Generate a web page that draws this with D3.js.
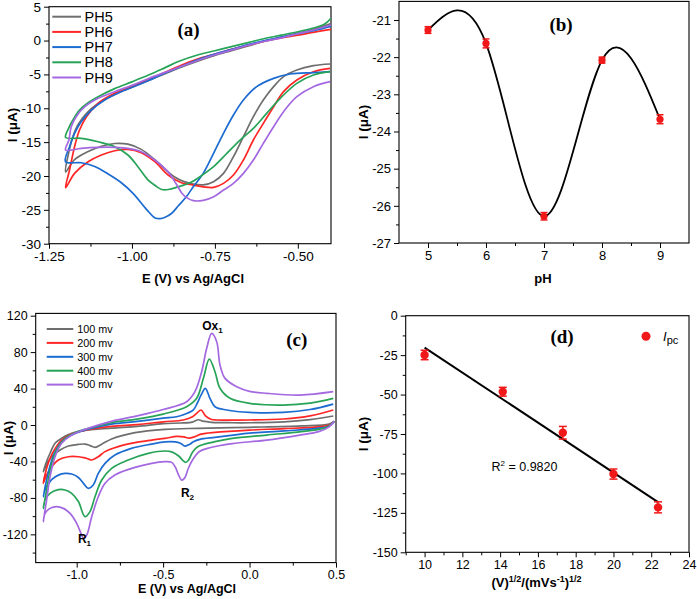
<!DOCTYPE html>
<html><head><meta charset="utf-8">
<script src="https://cdn.jsdelivr.net/npm/d3@7"></script>
<style>
body{margin:0;background:#fff;}
svg text{font-family:"Liberation Sans",Arial,sans-serif;}
</style></head><body>
<svg id="chart" width="697" height="599"></svg>
<script>
// ---------- Panel (a): CVs at different pH (E in V, I in µA) ----------
const phLabels = ["PH5","PH6","PH7","PH8","PH9"];
const cvPH5 = [[-0.403,-3.46],[-0.453,-3.71],[-0.503,-4.35],[-0.543,-5.33],[-0.573,-6.81],[-0.604,-8.78],[-0.634,-11.24],[-0.664,-14.2],[-0.694,-17.15],[-0.724,-19.61],[-0.754,-20.84],[-0.785,-21.3],[-0.815,-21.2],[-0.845,-20.8],[-0.87,-20.2],[-0.891,-19.4],[-0.931,-17.6],[-0.972,-16.07],[-1.012,-15.3],[-1.052,-15.2],[-1.092,-15.6],[-1.132,-16.4],[-1.173,-17.6],[-1.2,-19.4],
  [-1.191,-16.66],[-1.178,-14.2],[-1.163,-12.47],[-1.137,-10.75],[-1.102,-9.27],[-1.05,-7.9],[-1.0,-6.9],[-0.95,-5.9],[-0.9,-4.9],[-0.85,-3.9],[-0.8,-3.0],[-0.75,-2.2],[-0.7,-1.5],[-0.65,-0.8],[-0.6,-0.1],[-0.55,0.5],[-0.5,1.1],[-0.45,1.7],[-0.4,2.5]];
const cvPH6 = [[-0.403,-4.1],[-0.453,-4.6],[-0.503,-5.83],[-0.543,-7.55],[-0.573,-9.77],[-0.604,-12.23],[-0.634,-14.69],[-0.664,-17.64],[-0.694,-19.86],[-0.724,-21.09],[-0.754,-21.68],[-0.785,-21.6],[-0.815,-21.34],[-0.851,-21.0],[-0.891,-19.86],[-0.931,-17.89],[-0.972,-16.56],[-1.012,-16.07],[-1.052,-16.27],[-1.092,-16.9],[-1.132,-17.89],[-1.173,-19.61],[-1.2,-21.73],
  [-1.188,-19.12],[-1.173,-15.67],[-1.158,-13.21],[-1.137,-11.24],[-1.102,-9.27],[-1.052,-7.8],[-1.0,-6.8],[-0.95,-5.8],[-0.9,-4.7],[-0.85,-3.6],[-0.8,-2.7],[-0.75,-2.0],[-0.7,-1.3],[-0.65,-0.7],[-0.6,-0.1],[-0.55,0.4],[-0.5,0.8],[-0.45,1.25],[-0.4,1.66]];
const cvPH7 = [[-0.403,-4.6],[-0.453,-4.74],[-0.523,-4.94],[-0.573,-5.58],[-0.624,-6.81],[-0.664,-8.78],[-0.694,-11.0],[-0.724,-13.7],[-0.754,-16.66],[-0.785,-19.61],[-0.815,-21.58],[-0.835,-23.0],[-0.86,-24.4],[-0.88,-25.5],[-0.9,-26.1],[-0.915,-26.3],[-0.93,-26.2],[-0.955,-25.0],[-0.996,-22.6],[-1.032,-21.0],[-1.072,-19.7],[-1.112,-18.6],[-1.153,-18.04],[-1.2,-17.89],
  [-1.188,-15.67],[-1.173,-13.7],[-1.153,-11.98],[-1.122,-10.26],[-1.082,-8.78],[-1.032,-7.55],[-0.982,-6.57],[-0.95,-5.9],[-0.9,-4.8],[-0.85,-3.8],[-0.8,-2.8],[-0.75,-2.0],[-0.7,-1.3],[-0.65,-0.6],[-0.6,0.0],[-0.55,0.5],[-0.5,1.0],[-0.45,1.5],[-0.4,2.1]];
const cvPH8 = [[-0.403,-4.6],[-0.453,-5.09],[-0.503,-6.32],[-0.553,-8.53],[-0.594,-10.75],[-0.634,-12.97],[-0.674,-14.69],[-0.714,-16.66],[-0.754,-18.63],[-0.795,-20.11],[-0.825,-21.0],[-0.861,-21.6],[-0.89,-22.0],[-0.91,-22.0],[-0.93,-21.4],[-0.951,-20.6],[-0.982,-18.63],[-1.012,-16.9],[-1.052,-15.67],[-1.102,-14.94],[-1.153,-14.44],[-1.2,-14.3],
  [-1.191,-12.97],[-1.178,-11.74],[-1.158,-10.26],[-1.132,-9.18],[-1.092,-8.04],[-1.052,-7.1],[-1.0,-6.1],[-0.95,-5.1],[-0.9,-4.0],[-0.86,-3.1],[-0.8,-2.1],[-0.75,-1.5],[-0.7,-0.9],[-0.65,-0.3],[-0.6,0.3],[-0.55,0.8],[-0.5,1.3],[-0.45,1.9],[-0.42,2.4],[-0.4,3.3]];
const cvPH9 = [[-0.403,-6.07],[-0.453,-6.81],[-0.503,-8.29],[-0.543,-10.5],[-0.573,-12.72],[-0.604,-15.18],[-0.634,-17.64],[-0.664,-19.61],[-0.694,-21.09],[-0.724,-22.08],[-0.755,-23.1],[-0.785,-23.6],[-0.815,-23.65],[-0.835,-23.2],[-0.85,-22.5],[-0.865,-21.3],[-0.891,-19.4],[-0.931,-17.64],[-0.972,-16.41],[-1.012,-15.92],[-1.052,-15.77],[-1.102,-15.77],[-1.153,-15.92],[-1.2,-16.17],
  [-1.19,-14.69],[-1.183,-12.72],[-1.168,-11.24],[-1.142,-9.77],[-1.102,-8.53],[-1.052,-7.55],[-1.0,-6.6],[-0.95,-5.6],[-0.9,-4.7],[-0.85,-3.8],[-0.8,-2.9],[-0.75,-2.1],[-0.7,-1.4],[-0.65,-0.7],[-0.6,-0.1],[-0.55,0.4],[-0.5,1.0],[-0.45,1.6],[-0.4,2.3]];

// ---------- Panel (b): peak current vs pH ----------
const pHValues = [5, 6, 7, 8, 9];
const pHCurrent = [-21.27, -21.63, -26.28, -22.08, -23.67];
const pHError = [0.09, 0.12, 0.1, 0.08, 0.12];

// ---------- Panel (c): CVs at different scan rates ----------
const rateLabels = ["100 mv","200 mv","300 mv","400 mv","500 mv"];
const cv100 = [[0.49,4],[0.46,1],[0.3,-1],[0.0,-2.5],[-0.3,-3.6],[-0.489,-4.8],[-0.663,-8.4],[-0.798,-15.3],[-0.855,-21],[-0.894,-24.5],[-0.923,-22.6],[-0.952,-20.9],[-0.99,-21.3],[-1.048,-23],[-1.096,-27.4],[-1.145,-34.8],[-1.174,-43.9],[-1.193,-51.2],
  [-1.174,-40],[-1.154,-31],[-1.125,-20.1],[-1.087,-14.6],[-1.029,-9.2],[-0.961,-6.2],[-0.8,-3.5],[-0.65,-1.5],[-0.5,1.5],[-0.4,2.2],[-0.33,3.2],[-0.296,5.8],[-0.27,4.2],[-0.22,3],[-0.1,2.5],[0.0,2.5],[0.2,3.5],[0.35,6],[0.484,9.9]];
const cv200 = [[0.49,4],[0.46,0],[0.4,-2],[0.2,-4],[0.0,-5.5],[-0.2,-8],[-0.28,-10],[-0.32,-13],[-0.35,-14.3],[-0.38,-13],[-0.42,-12.5],[-0.489,-14.6],[-0.566,-16.5],[-0.663,-19.4],[-0.76,-23.7],[-0.836,-29.2],[-0.875,-34.8],[-0.913,-38.4],[-0.952,-36],[-0.99,-34.8],[-1.048,-34.8],[-1.106,-38.4],[-1.145,-45.7],[-1.174,-54.9],[-1.193,-64],
  [-1.174,-47.6],[-1.154,-36.6],[-1.125,-26],[-1.087,-16.5],[-1.029,-10],[-0.961,-6.2],[-0.8,-1.5],[-0.65,0.5],[-0.5,3.5],[-0.383,5.5],[-0.33,9],[-0.306,12.8],[-0.28,16.5],[-0.255,10],[-0.22,6],[-0.19,5.5],[0.0,5.5],[0.195,6.6],[0.35,10],[0.484,16.5]];
const cv300 = [[0.49,4],[0.46,-1],[0.4,-3.5],[0.2,-6.5],[0.0,-9],[-0.094,-11],[-0.2,-13.5],[-0.287,-15.7],[-0.325,-18.3],[-0.345,-21],[-0.373,-23.1],[-0.4,-20],[-0.43,-18.5],[-0.489,-18.5],[-0.566,-20.9],[-0.683,-25.6],[-0.779,-33],[-0.836,-42.1],[-0.875,-53.1],[-0.904,-65.9],[-0.933,-69.5],[-0.961,-64],[-0.99,-57.6],[-1.029,-53.8],[-1.067,-53.1],[-1.106,-55],[-1.145,-60],[-1.183,-71.3],[-1.193,-78.7],
  [-1.174,-60.4],[-1.154,-44.8],[-1.125,-29.5],[-1.077,-16.5],[-1.01,-9.2],[-0.952,-5.5],[-0.8,1],[-0.65,4],[-0.5,7.5],[-0.422,9.1],[-0.36,13],[-0.325,16.5],[-0.3,25],[-0.28,33],[-0.256,40.2],[-0.229,29.3],[-0.2,20.1],[-0.132,16.5],[0.0,13.9],[0.195,13.9],[0.35,17],[0.484,23]];
const cv400 = [[0.49,4],[0.46,-1],[0.42,-4],[0.3,-7.3],[0.1,-11],[-0.1,-14.6],[-0.2,-18.3],[-0.3,-23.8],[-0.33,-30],[-0.355,-39],[-0.37,-41],[-0.385,-39],[-0.41,-34],[-0.45,-29.5],[-0.489,-28.5],[-0.586,-31.1],[-0.702,-38.4],[-0.798,-47.6],[-0.855,-60.4],[-0.894,-78.7],[-0.923,-95],[-0.952,-100.6],[-0.99,-84],[-1.029,-75],[-1.067,-71.3],[-1.106,-71],[-1.154,-75],[-1.183,-82.3],[-1.193,-91.5],
  [-1.174,-71.3],[-1.154,-50],[-1.125,-31.1],[-1.077,-16.5],[-1.01,-8.4],[-0.952,-4.8],[-0.8,2.5],[-0.65,6.5],[-0.5,12],[-0.364,20.1],[-0.306,29.3],[-0.267,51.2],[-0.233,72.4],[-0.2,58.5],[-0.171,40.3],[-0.113,29.3],[0.0,23.8],[0.195,21.9],[0.35,24],[0.484,29.3]];
const cv500 = [[0.49,4],[0.46,-2],[0.4,-7.3],[0.29,-11],[0.1,-16.5],[-0.1,-20.5],[-0.23,-25],[-0.29,-29],[-0.33,-38.4],[-0.355,-48],[-0.375,-58],[-0.393,-60.4],[-0.41,-55],[-0.43,-46],[-0.45,-41],[-0.489,-40.2],[-0.663,-46.5],[-0.779,-54.9],[-0.836,-64],[-0.875,-78.7],[-0.913,-100.6],[-0.942,-120.8],[-0.961,-124.4],[-0.971,-120.8],[-1.0,-107.9],[-1.038,-97],[-1.077,-91.5],[-1.116,-89.6],[-1.154,-91.5],[-1.183,-97],[-1.193,-106.1],
  [-1.174,-82.3],[-1.154,-56.7],[-1.125,-34.8],[-1.087,-20.1],[-1.029,-11],[-0.952,-4.8],[-0.8,4],[-0.65,10],[-0.5,17],[-0.364,25.6],[-0.316,36.6],[-0.277,58.5],[-0.248,84.2],[-0.219,100.6],[-0.19,91.4],[-0.171,65.9],[-0.142,51.2],[-0.074,42],[0.0,37],[0.099,34.8],[0.292,32.9],[0.484,36.6]];

// ---------- Panel (d): Ipc vs sqrt(scan rate) ----------
const sqrtRate = [10, 14.14, 17.32, 20, 22.36];
const ipc = [-24.9, -48.2, -74.2, -100.4, -121.5];
const ipcError = [3, 2.8, 4, 3.2, 3.5];
const r2Label = "0.9820";

const colors = ["#6e6e6e", "#ff2626", "#1c6bd1", "#27a358", "#a468e0"];

// ---------- drawing ----------
const svg = d3.select("#chart");
const hy = f => d => f(d).replace("\u2212", "-");

function frame(g, xs, ys, xMaj, xMin, yMaj, yMin, xFmt, yFmt, fs) {
  const [x0, x1] = xs.range(), [y0, y1] = ys.range();
  const styleAxis = sel => {
    sel.attr("font-family", "Liberation Sans, Arial, sans-serif").attr("font-size", fs);
    sel.selectAll("text").attr("fill", "#000");
    sel.selectAll("line").attr("stroke", "#000");
    sel.select(".domain").remove();
  };
  g.append("g").attr("transform", `translate(0,${y0})`)
    .call(d3.axisBottom(xs).tickValues(xMaj).tickFormat(xFmt).tickSize(5).tickSizeOuter(0).tickPadding(3)).call(styleAxis);
  g.append("g").attr("transform", `translate(0,${y0})`)
    .call(d3.axisBottom(xs).tickValues(xMin).tickFormat("").tickSize(3).tickSizeOuter(0)).call(styleAxis);
  g.append("g").attr("transform", `translate(${x0},0)`)
    .call(d3.axisLeft(ys).tickValues(yMaj).tickFormat(yFmt).tickSize(5).tickSizeOuter(0).tickPadding(3)).call(styleAxis);
  g.append("g").attr("transform", `translate(${x0},0)`)
    .call(d3.axisLeft(ys).tickValues(yMin).tickFormat("").tickSize(3).tickSizeOuter(0)).call(styleAxis);
  g.append("rect").attr("x", x0).attr("y", y1).attr("width", x1 - x0).attr("height", y0 - y1)
    .attr("fill", "none").attr("stroke", "#000").attr("stroke-width", 1.1);
}
function clip(id, xs, ys) {
  const [x0, x1] = xs.range(), [y0, y1] = ys.range();
  svg.append("clipPath").attr("id", id).append("rect")
    .attr("x", x0).attr("y", y1).attr("width", x1 - x0).attr("height", y0 - y1);
}
function ytitle(x, y) {
  svg.append("text").attr("transform", `translate(${x},${y}) rotate(-90)`)
    .attr("text-anchor", "middle").attr("font-weight", "bold").attr("font-size", 13.5).text("I (\u03bcA)");
}
function xtitle(x, y, t, fs) {
  return svg.append("text").attr("x", x).attr("y", y).attr("text-anchor", "middle")
    .attr("font-weight", "bold").attr("font-size", fs).text(t);
}
function plabel(x, y, t) {
  svg.append("text").attr("x", x).attr("y", y).attr("text-anchor", "middle")
    .style("font-family", "'Liberation Serif','Times New Roman',serif")
    .attr("font-weight", "bold").attr("font-size", 19).text(t);
}

// ===== (a) =====
const xa = d3.scaleLinear().domain([-1.25, -0.4]).range([49, 331]);
const ya = d3.scaleLinear().domain([-30, 5]).range([243.7, 6.7]);
const gA = svg.append("g");
frame(gA, xa, ya, [-1.25, -1.0, -0.75, -0.5], [-1.125, -0.875, -0.625],
  d3.range(-30, 5.1, 5), d3.range(-27.5, 5, 5), hy(d3.format(".2f")), hy(d3.format("d")), 13.5);
clip("clipA", xa, ya);
const lineA = d3.line().x(d => xa(d[0])).y(d => ya(d[1])).curve(d3.curveCatmullRom.alpha(0.5));
[cvPH5, cvPH6, cvPH7, cvPH8, cvPH9].forEach((s, i) => {
  gA.append("path").attr("d", lineA(s)).attr("fill", "none").attr("stroke", colors[i])
    .attr("stroke-width", 1.7).attr("clip-path", "url(#clipA)");
});
phLabels.forEach((l, i) => {
  const y = 16.7 + i * 15.2;
  gA.append("line").attr("x1", 52.3).attr("x2", 81).attr("y1", y).attr("y2", y)
    .attr("stroke", colors[i]).attr("stroke-width", 2);
  gA.append("text").attr("x", 84.5).attr("y", y + 5).attr("font-size", 14.5).text(l);
});
plabel(188.5, 36, "(a)");
xtitle(193, 283, "E (V) vs Ag/AgCl", 13);
ytitle(17, 125);

// ===== (b) =====
const xb = d3.scaleLinear().domain([4.5, 9.5]).range([399, 689]);
const yb = d3.scaleLinear().domain([-27, -20.5]).range([243, 1.4]);
const gB = svg.append("g");
frame(gB, xb, yb, [5, 6, 7, 8, 9], [5.5, 6.5, 7.5, 8.5],
  d3.range(-27, -20.9, 1), d3.range(-26.5, -20.9, 1), hy(d3.format("d")), hy(d3.format("d")), 13);
const ptsB = pHValues.map((v, i) => [v, pHCurrent[i], pHError[i]]);
gB.append("path").attr("d", d3.line().x(d => xb(d[0])).y(d => yb(d[1])).curve(d3.curveNatural)(ptsB))
  .attr("fill", "none").attr("stroke", "#000").attr("stroke-width", 1.8);
ptsB.forEach(d => {
  const cx = xb(d[0]), t = yb(d[1] + d[2]), b = yb(d[1] - d[2]);
  gB.append("line").attr("x1", cx).attr("x2", cx).attr("y1", t).attr("y2", b).attr("stroke", "#f01818").attr("stroke-width", 1.5);
  [t, b].forEach(yy => gB.append("line").attr("x1", cx - 3.5).attr("x2", cx + 3.5).attr("y1", yy).attr("y2", yy).attr("stroke", "#f01818").attr("stroke-width", 1.5));
  gB.append("circle").attr("cx", cx).attr("cy", yb(d[1])).attr("r", 3.6).attr("fill", "#f01818");
});
plabel(561, 30.5, "(b)");
xtitle(543, 283, "pH", 13);
ytitle(368, 122);

// ===== (c) =====
const xc = d3.scaleLinear().domain([-1.237, 0.5]).range([35.7, 336]);
const yc = d3.scaleLinear().domain([-151, 122.5]).range([562.6, 313.4]);
const gC = svg.append("g");
frame(gC, xc, yc, [-1.0, -0.5, 0.0, 0.5], [-0.75, -0.25, 0.25],
  d3.range(-120, 121, 40), d3.range(-140, 121, 40), hy(d3.format(".1f")), hy(d3.format("d")), 12.5);
clip("clipC", xc, yc);
const lineC = d3.line().x(d => xc(d[0])).y(d => yc(d[1])).curve(d3.curveCatmullRom.alpha(0.5));
[cv100, cv200, cv300, cv400, cv500].forEach((s, i) => {
  gC.append("path").attr("d", lineC(s)).attr("fill", "none").attr("stroke", colors[i])
    .attr("stroke-width", 1.7).attr("clip-path", "url(#clipC)");
});
rateLabels.forEach((l, i) => {
  const y = 329 + i * 13.9;
  gC.append("line").attr("x1", 46.7).attr("x2", 73.3).attr("y1", y).attr("y2", y)
    .attr("stroke", colors[i]).attr("stroke-width", 2);
  gC.append("text").attr("x", 77.3).attr("y", y + 3.8).attr("font-size", 10.8).text(l);
});
const ox = gC.append("text").attr("x", 212.5).attr("y", 330).attr("text-anchor", "middle")
  .attr("font-size", 12).attr("font-weight", "bold");
ox.append("tspan").text("Ox");
ox.append("tspan").attr("font-size", 8).attr("dy", 3).text("1");
const r2 = gC.append("text").attr("x", 187.5).attr("y", 497).attr("text-anchor", "middle")
  .attr("font-size", 12).attr("font-weight", "bold");
r2.append("tspan").text("R");
r2.append("tspan").attr("font-size", 8).attr("dy", 3).text("2");
const r1 = gC.append("text").attr("x", 84.5).attr("y", 543).attr("text-anchor", "middle")
  .attr("font-size", 12).attr("font-weight", "bold");
r1.append("tspan").text("R");
r1.append("tspan").attr("font-size", 8).attr("dy", 3).text("1");
plabel(296.7, 346, "(c)");
xtitle(187, 593, "E (V) vs Ag/AgCl", 12.5);
ytitle(13, 438);

// ===== (d) =====
const xd = d3.scaleLinear().domain([9, 24]).range([405.7, 689]);
const yd = d3.scaleLinear().domain([-150, 0]).range([552.3, 315.7]);
const gD = svg.append("g");
frame(gD, xd, yd, d3.range(10, 24.1, 2), d3.range(9, 24, 2),
  d3.range(-150, 0.1, 25), d3.range(-137.5, 0, 25), hy(d3.format("d")), hy(d3.format("d")), 12.5);
// least-squares line through the data
const mx = d3.mean(sqrtRate), my = d3.mean(ipc);
const slope = d3.sum(sqrtRate.map((x, i) => (x - mx) * (ipc[i] - my))) / d3.sum(sqrtRate.map(x => (x - mx) ** 2));
const icpt = my - slope * mx;
const xEnds = d3.extent(sqrtRate);
gD.append("line").attr("x1", xd(xEnds[0])).attr("y1", yd(icpt + slope * xEnds[0]))
  .attr("x2", xd(xEnds[1])).attr("y2", yd(icpt + slope * xEnds[1]))
  .attr("stroke", "#000").attr("stroke-width", 2);
sqrtRate.forEach((v, i) => {
  const cx = xd(v), t = yd(ipc[i] + ipcError[i]), b = yd(ipc[i] - ipcError[i]);
  gD.append("line").attr("x1", cx).attr("x2", cx).attr("y1", t).attr("y2", b).attr("stroke", "#f01818").attr("stroke-width", 1.5);
  [t, b].forEach(yy => gD.append("line").attr("x1", cx - 4).attr("x2", cx + 4).attr("y1", yy).attr("y2", yy).attr("stroke", "#f01818").attr("stroke-width", 1.5));
  gD.append("circle").attr("cx", cx).attr("cy", yd(ipc[i])).attr("r", 4.2).attr("fill", "#f01818");
});
const rt = gD.append("text").attr("x", 491.5).attr("y", 471).attr("font-size", 12.5);
rt.append("tspan").text("R");
rt.append("tspan").attr("font-size", 8).attr("dy", -5).text("2");
rt.append("tspan").attr("dy", 5).text(" = " + r2Label);
gD.append("circle").attr("cx", 646).attr("cy", 336.3).attr("r", 4.5).attr("fill", "#f01818");
const lg = gD.append("text").attr("x", 663).attr("y", 340.5).attr("font-size", 13);
lg.append("tspan").attr("font-style", "italic").text("I");
lg.append("tspan").attr("font-size", 11).attr("dy", 3).text("pc");
plabel(562, 342.5, "(d)");
const xt = svg.append("text").attr("x", 536.5).attr("y", 587).attr("text-anchor", "middle")
  .attr("font-weight", "bold").attr("font-size", 13);
xt.append("tspan").text("(V)");
xt.append("tspan").attr("font-size", 9).attr("dy", -5).text("1/2");
xt.append("tspan").attr("dy", 5).text("/(mVs");
xt.append("tspan").attr("font-size", 9).attr("dy", -5).text("-1");
xt.append("tspan").attr("dy", 5).text(")");
xt.append("tspan").attr("font-size", 9).attr("dy", -5).text("1/2");
ytitle(368, 434);
</script></body></html>
